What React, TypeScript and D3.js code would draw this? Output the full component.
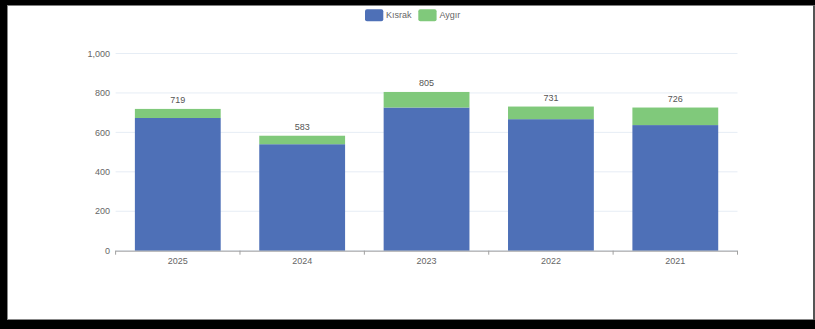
import React from "react";
import * as d3 from "d3";

const years = ["2025", "2024", "2023", "2022", "2021"];
const kisrak = [673, 540, 726, 667, 637];
const aygir = [46, 43, 79, 64, 89];
const totals = [719, 583, 805, 731, 726];
const yTicks = [0, 200, 400, 600, 800, 1000];
const seriesNames = ["Kısrak", "Aygır"];
const colors = ["#4e70b7", "#80c97b"];

export default function App() {
  const W = 815, H = 329;
  const x = d3.scaleBand<string>().domain(years).range([115.6, 737.5]).padding(0);
  const y = d3.scaleLinear().domain([0, 1000]).range([250.7, 53.5]);
  const barFrac = 0.69;
  const fmt = d3.format(",");
  const font = "Liberation Sans, Arial, sans-serif";
  const [x0, x1] = x.range();

  return (
    <svg width={W} height={H} style={{ position: "absolute", left: 0, top: 0 }} fontFamily={font}>
      <rect x={0} y={0} width={W} height={H} fill="#fff" />
      {/* gridlines */}
      {yTicks.map((t) => (
        <line key={"g" + t} x1={x0} x2={x1} y1={y(t)} y2={y(t)} stroke="#e6edf5" strokeWidth={1} />
      ))}
      {/* y tick labels */}
      {yTicks.map((t) => (
        <text key={"yl" + t} x={110} y={y(t)} dy="0.35em" textAnchor="end" fontSize={9} fill="#666">
          {fmt(t)}
        </text>
      ))}
      {/* bars */}
      {years.map((yr, i) => {
        const bw = x.bandwidth() * barFrac;
        const bx = (x(yr) as number) + (x.bandwidth() - bw) / 2;
        const k = kisrak[i];
        const a = aygir[i];
        return (
          <g key={yr}>
            <rect x={bx} y={y(k)} width={bw} height={y(0) - y(k)} fill={colors[0]} />
            <rect x={bx} y={y(k + a)} width={bw} height={y(k) - y(k + a)} fill={colors[1]} />
            <text x={bx + bw / 2} y={y(totals[i]) - 6} textAnchor="middle" fontSize={9} fill="#555">
              {totals[i]}
            </text>
          </g>
        );
      })}
      {/* x axis */}
      <line x1={x0} x2={x1} y1={y(0) + 0.5} y2={y(0) + 0.5} stroke="#a0a0a0" strokeWidth={1} />
      {[...years.map((yr) => x(yr) as number), x1].map((p, i) => (
        <line key={"t" + i} x1={p} x2={p} y1={y(0)} y2={y(0) + 4} stroke="#a0a0a0" strokeWidth={1} />
      ))}
      {years.map((yr) => (
        <text key={"xl" + yr} x={(x(yr) as number) + x.bandwidth() / 2} y={261} dy="0.35em" textAnchor="middle" fontSize={9} fill="#666">
          {yr}
        </text>
      ))}
      {/* legend */}
      <rect x={365} y={9.3} width={18.3} height={12} rx={2} fill={colors[0]} />
      <text x={386} y={15.3} dy="0.35em" fontSize={9} fill="#666">{seriesNames[0]}</text>
      <rect x={418.3} y={9.3} width={18.3} height={12} rx={2} fill={colors[1]} />
      <text x={439.5} y={15.3} dy="0.35em" fontSize={9} fill="#666">{seriesNames[1]}</text>
      {/* frame */}
      <rect x={0} y={0} width={W} height={5.5} fill="#000" />
      <rect x={0} y={0} width={7} height={H} fill="#000" />
      <rect x={0} y={320} width={W} height={H - 320} fill="#000" />
      <rect x={7} y={5.5} width={1} height={314.5} fill="#888" />
      <rect x={8} y={319} width={W - 8} height={1} fill="#888" />
      <rect x={813} y={5.5} width={2} height={314.5} fill="#555" />
    </svg>
  );
}
